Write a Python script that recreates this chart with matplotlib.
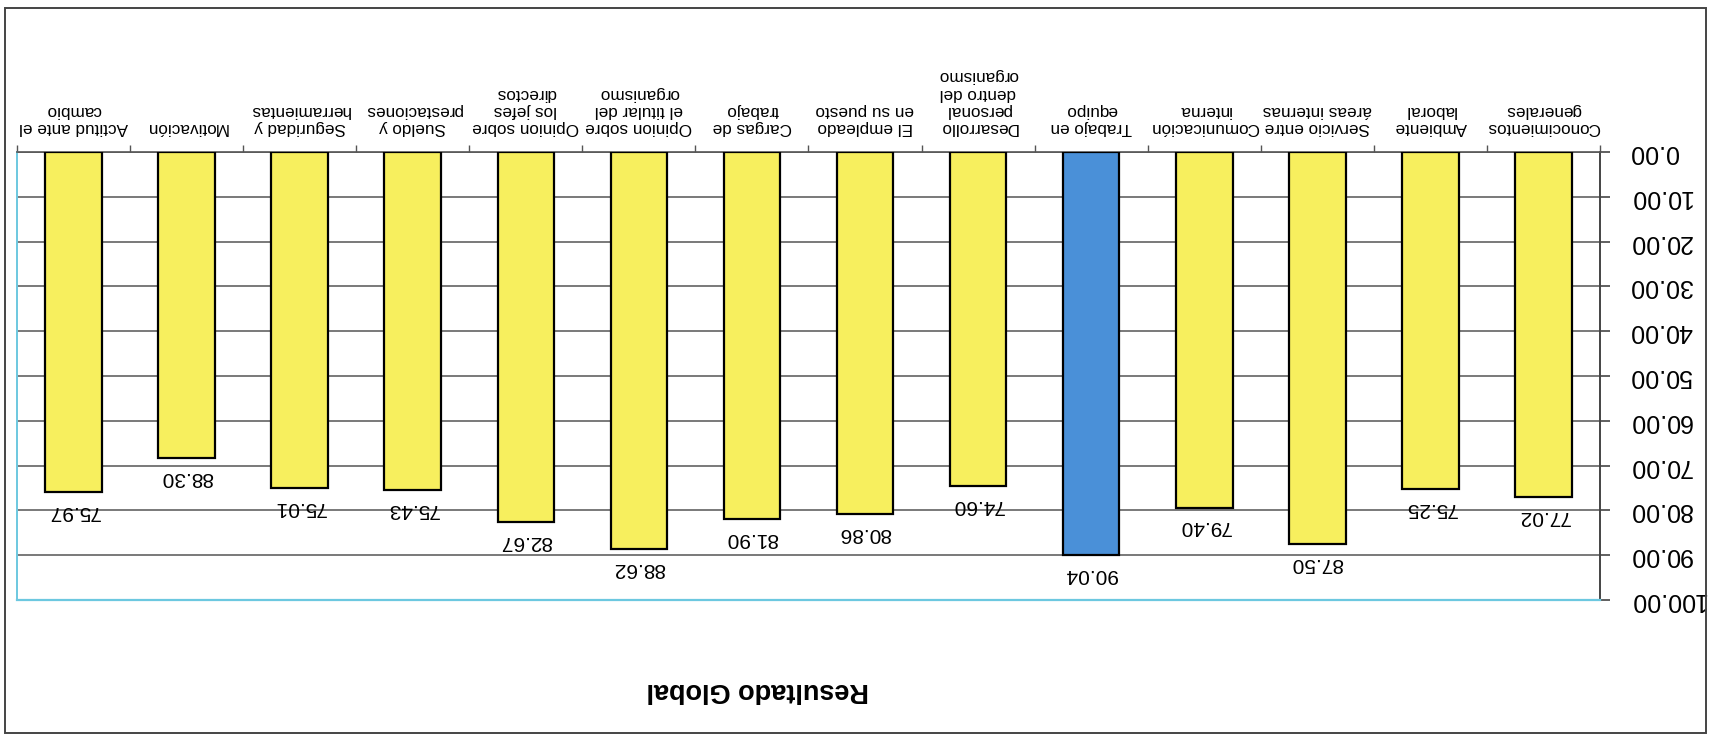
import numpy as np
import matplotlib
matplotlib.use("Agg")
import matplotlib.pyplot as plt
from matplotlib.patches import Rectangle

plt.rcParams['font.family'] = ['Liberation Sans', 'DejaVu Sans']

# the scanned chart is upside down, so everything is drawn rotated 180 degrees
categorias = ["Conocimientos\ngenerales", "Ambiente\nlaboral", "Servicio entre\náreas internas",
              "Comunicación\ninterna", "Trabajo en\nequipo",
              "Desarrollo\npersonal\ndentro del\norganismo", "El empleado\nen su puesto",
              "Cargas de\ntrabajo", "Opinion sobre\nel titular del\norganismo",
              "Opinion sobre\nlos jefes\ndirectos", "Sueldo y\nprestaciones",
              "Seguridad y\nherramientas", "Motivación", "Actitud ante el\ncambio"]
valores = [77.02, 75.25, 87.50, 79.40, 90.04, 74.60, 80.86, 81.90, 88.62, 82.67,
           75.43, 75.01, 68.30, 75.97]
etiquetas = ["77.02", "75.25", "87.50", "79.40", "90.04", "74.60", "80.86", "81.90",
             "88.62", "82.67", "75.43", "75.01", "88.30", "75.97"]
destacado = "Trabajo en\nequipo"
y_ticks = [0, 10, 20, 30, 40, 50, 60, 70, 80, 90, 100]

amarillo = "#F7EF5E"
azul = "#4A90D8"
cian = "#6CC8E0"

W, H = 1712, 738
fig = plt.figure(figsize=(W / 100, H / 100), dpi=100)
ax = fig.add_axes([17 / W, 1 - 600 / H, (1600 - 17) / W, (600 - 152) / H])

x = np.arange(len(categorias))
colores = [azul if c == destacado else amarillo for c in categorias]
ax.bar(x, valores, width=0.5, color=colores, edgecolor="black", linewidth=1.6, zorder=3)

for xi, v, t in zip(x, valores, etiquetas):
    ax.annotate(t, (xi, v), xytext=(0, -7), textcoords="offset points",
                ha="center", va="top", rotation=180, fontsize=15, zorder=4)

ax.set_ylim(100, 0)
ax.set_xlim(len(categorias) - 0.5, -0.5)

ax.set_yticks(y_ticks)
ax.set_yticklabels([f"{v:.2f}" for v in y_ticks])
ax.yaxis.tick_right()
ax.tick_params(axis="y", labelrotation=180, labelsize=18, length=7, width=1.2,
               color="#444444", pad=14, direction="out")
for lab in ax.get_yticklabels():
    lab.set_ha("left")
    lab.set_va("center")

ax.set_xticks(x)
ax.set_xticklabels(categorias)
ax.set_xticks(np.arange(len(categorias) + 1) - 0.5, minor=True)
ax.xaxis.tick_top()
ax.tick_params(axis="x", which="major", length=0, labelrotation=180, labelsize=12.3,
               pad=12)
ax.tick_params(axis="x", which="minor", length=5, width=1, color="#555555", top=True,
               bottom=False)
for lab in ax.get_xticklabels():
    lab.set_va("bottom")
    lab.set_ha("center")
    lab.set_multialignment("center")

ax.grid(axis="y", color="#555555", linewidth=1.1, zorder=0)
ax.set_axisbelow(True)

ax.spines["top"].set_color("#555555")
ax.spines["top"].set_linewidth(1.2)
ax.spines["right"].set_color("#444444")
ax.spines["right"].set_linewidth(1.4)
ax.spines["left"].set_color(cian)
ax.spines["left"].set_linewidth(1.4)
ax.spines["bottom"].set_color(cian)
ax.spines["bottom"].set_linewidth(1.6)

fig.text(758 / W, 1 - 690 / H, "Resultado Global", rotation=180, ha="center",
         va="center", fontsize=19.5, fontweight="bold")

fig.patches.append(Rectangle((5 / W, 1 - 733 / H), (1706 - 5) / W, (733 - 8) / H,
                             transform=fig.transFigure, fill=False,
                             edgecolor="#444444", linewidth=1.4))

fig.savefig("out.png", dpi=100)
